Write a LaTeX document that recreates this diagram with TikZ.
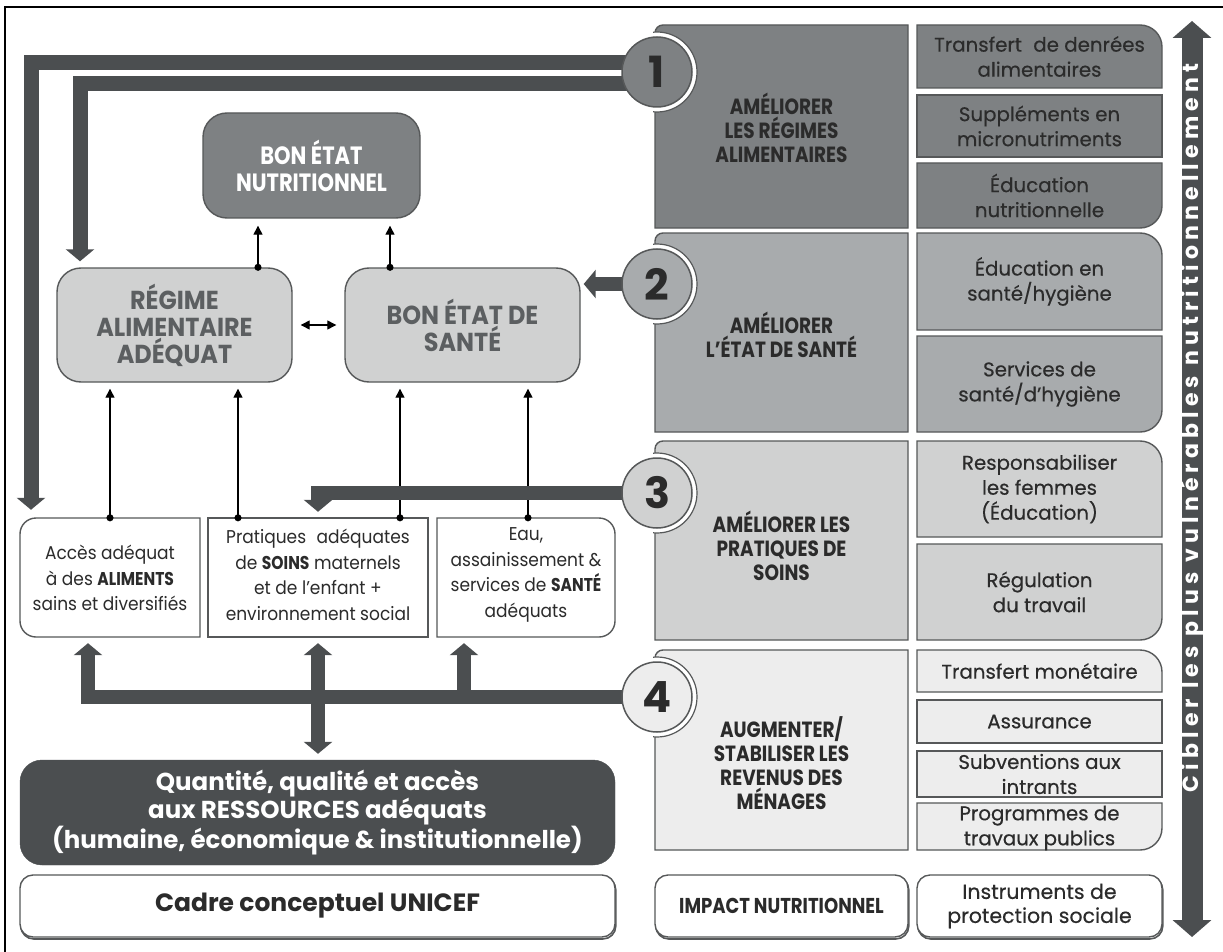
\documentclass[tikz,border=0pt]{standalone}
\usepackage{fontspec}
\setmainfont{Poppins}
\newfontfamily\hdfont{Poppins}[FakeStretch=0.84]
\newfontfamily\hdwfont{Poppins}[FakeStretch=0.92]
\newfontfamily\bodyfont{Poppins}[FakeBold=0.4]
\newfontfamily\smfont{Poppins}[FakeStretch=0.92]
\newfontfamily\spfont{Poppins}[LetterSpace=23.5]
\usetikzlibrary{arrows.meta,calc}

\definecolor{ink}{HTML}{2B2B2B}
\definecolor{bar}{HTML}{4B4E50}
\definecolor{edge}{HTML}{565859}
\definecolor{rowA}{HTML}{7E8183}
\definecolor{rowB}{HTML}{A8ABAD}
\definecolor{rowC}{HTML}{D0D1D1}
\definecolor{rowD}{HTML}{EDEDED}
\definecolor{softtext}{HTML}{5C5F61}

% box outline with four independent corner radii:
% #1 style, #2 x1, #3 y1, #4 x2, #5 y2, #6 top-left, #7 top-right, #8 bottom-right, #9 bottom-left
\newcommand\cbox[9]{%
  \path[#1] (#2+#6,#3) -- (#4-#7,#3)
    .. controls (#4-0.448*#7,#3) and (#4,#3+0.448*#7) .. (#4,#3+#7)
    -- (#4,#5-#8)
    .. controls (#4,#5-0.448*#8) and (#4-0.448*#8,#5) .. (#4-#8,#5)
    -- (#2+#9,#5)
    .. controls (#2+0.448*#9,#5) and (#2,#5-0.448*#9) .. (#2,#5-#9)
    -- (#2,#3+#6)
    .. controls (#2,#3+0.448*#6) and (#2+0.448*#6,#3) .. (#2+#6,#3) -- cycle;}

% white gap and notch line around a numbered disc, on the panel side only
\newcommand\notch[2]{%
  \begin{scope}
    \clip (#1-2,#2-50) rectangle (#1+60,#2+50);
    \fill[white] (#1+2,#2) circle[radius=40pt];
    \draw[edge,line width=1.2pt] (#1+2,#2) circle[radius=40pt];
  \end{scope}}

\begin{document}
\begin{tikzpicture}[x=1pt,y=-1pt,
  panel/.style={draw=edge,line width=1.4pt},
  txt/.style={align=center,text=ink,inner sep=0pt},
  body/.style={txt,font=\bodyfont\fontsize{19.8}{25}\selectfont},
  small/.style={txt,font=\smfont\fontsize{18.5}{25.5}\selectfont},
  head/.style={txt,font=\hdfont\bfseries\fontsize{22}{24}\selectfont},
  big/.style={txt,font=\hdfont\bfseries\fontsize{25}{27}\selectfont},
  bigw/.style={txt,font=\hdwfont\bfseries\fontsize{26}{27}\selectfont},
  holder/.style={inner sep=0pt,draw=none},
  soft/.style={rounded corners=24pt,draw=edge,line width=1.4pt},
  foot/.style={rounded corners=13pt,draw=edge,line width=1.4pt,fill=white,inner sep=0pt,align=center,text=ink,
    preaction={draw=edge,line width=1.6pt,transform canvas={xshift=0.8pt,yshift=-2pt}}},
  numdisc/.style={circle,minimum size=70pt,inner sep=0pt,draw=edge,line width=1.5pt,
    text=ink,font=\bfseries\fontsize{43}{43}\selectfont},
  fatline/.style={draw=bar,line width=14pt,line join=miter},
  fatarrow/.style={fatline,-{Triangle[width=28pt,length=12pt]}},
  thinarrow/.style={line width=1.3pt,{Circle[length=7pt]}-{Triangle[width=9pt,length=9pt]},shorten <=-3.5pt},
  linkarrow/.style={line width=1.3pt,{Triangle[width=9pt,length=9pt]}-{Triangle[width=9pt,length=9pt]}}
]
\useasboundingbox (0,0) rectangle (1223,952);
\fill[white] (0,0) rectangle (1223,952);
\draw[line width=2pt] (5,952) -- (5,7) -- (1223,7);

% ---------- nutritional impact column ----------
\cbox{panel,fill=rowA}{655}{25}{908}{228}{8}{0}{0}{0}
\cbox{panel,fill=rowB}{655}{233}{908}{432}{8}{0}{0}{0}
\cbox{panel,fill=rowC}{655}{441}{908}{640}{8}{0}{0}{0}
\cbox{panel,fill=rowD}{655}{650}{908}{850}{8}{0}{0}{0}
\notch{655}{72}
\notch{655}{284}
\notch{655}{493}
\notch{655}{697}

\node[head] (h1) at (781.5,128) {AMÉLIORER\\LES RÉGIMES\\ALIMENTAIRES};
\node[head] (h2) at (781.5,335) {AMÉLIORER\\L’ÉTAT DE SANTÉ};
\node[head] (h3) at (781.5,546) {AMÉLIORER LES\\PRATIQUES DE\\SOINS};
\node[head] (h4) at (781.5,763) {AUGMENTER/\\STABILISER LES\\REVENUS DES\\MÉNAGES};

% ---------- social protection instruments ----------
\cbox{panel,fill=rowA}{917}{25}{1162}{88}{0}{22}{0}{0}
\cbox{panel,fill=rowA}{917}{95}{1162}{157}{0}{0}{0}{0}
\cbox{panel,fill=rowA}{917}{163}{1162}{228}{0}{0}{22}{0}
\cbox{panel,fill=rowB}{917}{233}{1162}{330}{0}{22}{0}{0}
\cbox{panel,fill=rowB}{917}{336}{1162}{432}{0}{0}{22}{0}
\cbox{panel,fill=rowC}{917}{441}{1162}{537}{0}{22}{0}{0}
\cbox{panel,fill=rowC}{917}{544}{1162}{640}{0}{0}{22}{0}
\cbox{panel,fill=rowD}{917}{650}{1162}{692}{0}{22}{0}{0}
\cbox{panel,fill=rowD}{917}{700}{1162}{743}{0}{0}{0}{0}
\cbox{panel,fill=rowD}{917}{751}{1162}{797}{0}{0}{0}{0}
\cbox{panel,fill=rowD}{917}{803}{1162}{850}{0}{0}{22}{0}

\node[body] (b11) at (1039.5,56.5) {Transfert\hspace{6pt} de denrées\\alimentaires};
\node[body] (b12) at (1039.5,126) {Suppléments en\\micronutriments};
\node[body] (b13) at (1039.5,195.5) {Éducation\\nutritionnelle};
\node[body] (b21) at (1039.5,281.5) {Éducation en\\santé/hygiène};
\node[body] (b22) at (1039.5,384) {Services de\\santé/d’hygiène};
\node[body] (b31) at (1039.5,489) {Responsabiliser\\les femmes\\(Éducation)};
\node[body] (b32) at (1039.5,592) {Régulation\\du travail};
\node[body] (b41) at (1039.5,671) {Transfert monétaire};
\node[body] (b42) at (1039.5,721.5) {Assurance};
\node[body] (b43) at (1039.5,774) {Subventions aux\\intrants};
\node[body] (b44) at (1039.5,828) {Programmes de\\travaux publics};

% ---------- targeting arrow ----------
\coordinate (vt) at (1192,21);
\coordinate (vb) at (1192,937);
\draw[draw=bar,line width=21pt,{Triangle[width=38pt,length=17pt]}-{Triangle[width=38pt,length=17pt]}] (vt) -- (vb);
\node[rotate=90,text=white,inner sep=0pt,font=\spfont\bfseries\fontsize{22}{22}\selectfont] (tgt) at (1192,428)
  {Cibler les plus vulnérables nutritionnellement};

% ---------- UNICEF framework ----------
\node[soft,fill=rowA,minimum width=217pt,minimum height=105pt] (nut) at (311.5,165.5) {};
\node[big,text=white] (nutt) at (nut) {BON ÉTAT\\NUTRITIONNEL};
\node[soft,fill=rowC,minimum width=235pt,minimum height=114pt] (reg) at (174.5,325) {};
\node[bigw,text=softtext] (regt) at (reg) {RÉGIME\\ALIMENTAIRE\\ADÉQUAT};
\node[soft,fill=rowC,minimum width=235pt,minimum height=114pt] (san) at (462.5,325) {};
\node[bigw,text=softtext] (sant) at (san) {BON ÉTAT DE\\SANTÉ};

\cbox{panel,fill=white}{20}{518}{200}{637}{16}{0}{0}{16}
\cbox{panel,fill=white}{208}{518}{428}{637}{0}{0}{0}{0}
\cbox{panel,fill=white}{437}{518}{615}{637}{0}{16}{16}{0}
\node[holder,minimum width=180pt,minimum height=119pt] (acc) at (110,577.5) {};
\node[holder,minimum width=220pt,minimum height=119pt] (pra) at (318,577.5) {};
\node[holder,minimum width=178pt,minimum height=119pt] (eau) at (526,577.5) {};
\node[small] (acct) at (110,578) {Accès adéquat\\à des {\hdfont\bfseries ALIMENTS}\\sains et diversifiés};
\node[small] (prat) at (318,575) {Pratiques\hspace{6pt} adéquates\\de {\hdfont\bfseries SOINS} maternels\\et de l’enfant +\\environnement social};
\node[small] (eaut) at (526,575) {Eau,\\assainissement \&\\services de {\hdfont\bfseries SANTÉ}\\adéquats};

\node[rounded corners=22pt,fill=bar,draw=bar,minimum width=595pt,minimum height=105pt] (res) at (317.5,812.5) {};
\node[txt,text=white,font=\bfseries\fontsize{24.5}{28}\selectfont] (rest) at (res)
  {Quantité, qualité et accès\\aux RESSOURCES adéquats\\(humaine, économique \& institutionnelle)};

% ---------- footer labels ----------
\node[foot,minimum width=595pt,minimum height=62pt,font=\bfseries\fontsize{25}{28}\selectfont] (cadre) at (317.5,906) {Cadre conceptuel UNICEF};
\node[foot,minimum width=253pt,minimum height=62pt,font=\hdfont\bfseries\fontsize{21.5}{24}\selectfont] (impact) at (781.5,906) {IMPACT NUTRITIONNEL};
\node[foot,minimum width=245pt,minimum height=62pt,font=\bodyfont\fontsize{20.5}{24}\selectfont] (instr) at (1039.5,906) {Instruments de\\protection sociale};

% ---------- causal links ----------
\draw[thinarrow,shorten >=7pt] ([xshift=83.5pt]reg.north) -- ([xshift=-53.5pt]nut.south);
\draw[thinarrow,shorten >=7pt] ([xshift=-72.5pt]san.north) -- ([xshift=78.5pt]nut.south);
\draw[linkarrow,shorten <=8pt,shorten >=8pt] (reg.east) -- (san.west);
\draw[thinarrow,shorten >=6pt] (acc.north) -- ([xshift=-64.5pt]reg.south);
\draw[thinarrow,shorten >=6pt] ([xshift=-80pt]pra.north) -- ([xshift=63.5pt]reg.south);
\draw[thinarrow,shorten >=6pt] ([xshift=82pt]pra.north) -- ([xshift=-62.5pt]san.south);
\draw[thinarrow,shorten >=6pt] ([xshift=2pt]eau.north) -- ([xshift=65.5pt]san.south);

% ---------- entry points of the four intervention areas ----------
\coordinate (c1) at (657,72);
\coordinate (c2) at (657,284);
\coordinate (c3) at (657,493);
\coordinate (c4) at (657,697);
\coordinate (j0) at (81,697);
\coordinate (j1) at (88,697);
\coordinate (j2) at (318,697);
\coordinate (j3) at (464,697);

\draw[fatarrow,line width=15pt,shorten >=8pt] ([yshift=9pt]c1) -| ([xshift=-79pt]acc.north);
\draw[fatarrow,line width=15pt,shorten >=6pt] ([yshift=-12pt]c1) -| ([xshift=-94.5pt]reg.north);
\draw[fatarrow,shorten >=3pt] (c2) -- (san.east |- c2);
\draw[fatarrow,shorten >=6pt] (c3) -| (pra.north);
\draw[fatline] (c4) -- (j0);
\draw[fatarrow,shorten >=6pt] (j1) -- (j1 |- acc.south);
\draw[fatarrow,shorten >=6pt] (j2) -- (j2 |- pra.south);
\draw[fatarrow,shorten >=6pt] (j3) -- (j3 |- eau.south);
\draw[fatarrow,shorten >=6pt] (j2) -- (j2 |- res.north);

\node[numdisc,fill=rowA] (n1) at (c1) {1};
\node[numdisc,fill=rowB] (n2) at (c2) {2};
\node[numdisc,fill=rowC] (n3) at (c3) {3};
\node[numdisc,fill=rowD] (n4) at (c4) {4};
\end{tikzpicture}
\end{document}
